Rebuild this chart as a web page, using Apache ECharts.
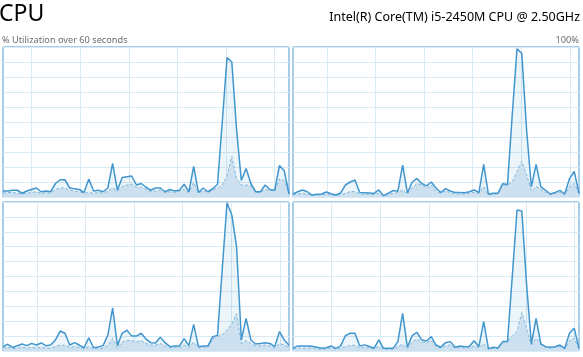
<!DOCTYPE html>
<html><head><meta charset="utf-8">
<script src="https://cdn.jsdelivr.net/npm/echarts@6/dist/echarts.min.js"></script>
<style>html,body{margin:0;padding:0;background:#fff}#c{width:583px;height:357px}</style>
</head><body><div id="c"></div>
<script>
// % utilization per logical processor, one sample per second (61 samples)
const cpu0Total  = [4,4,4.5,4.5,2.5,4,5,6,3.5,4,3.5,9,11.5,11.5,6,5.5,5,3,12,4,4.5,3.5,6,22.4,4.5,13,13.5,14,8,9,6.5,4.5,6,6,3.5,5,4,4.5,8.5,3.5,20.4,3,6,3.5,5.5,8.5,50,93,90,45,11,19,9,3.5,3.5,8,5,4.5,21,17.5,2];
const cpu0Kernel = [2.5,3,3,2.5,2,2.5,3,3.5,2.5,3,2.5,5,6,6,4.5,4,3.5,2.5,3,2.5,3,2.5,4,6,4,7,8,8.5,6.5,6.5,5,3.5,4,4.5,3,3.5,3,4,5,3,9.5,3,4,3,4.5,6,8,14,27,12,8,8,7.5,3,3,5,4.5,4,12,11,2];
const cpu1Total  = [2,3.5,4.7,3.5,1.3,1.8,2,3.3,2.2,1.3,2.7,8,10,11.3,3,2.8,2.6,2.4,4.7,0.9,2.5,4.3,3.8,21.3,2.7,10,12.4,9,7.4,10,6,3,5.6,4,3,3,2.9,3.5,4.7,3,21.8,1.8,2.5,2.5,8.9,8.4,55,98.9,95.6,45,6.7,21.8,6.7,4.4,2,3,4.4,2,12.2,17,2.4];
const cpu1Kernel = [1.5,2,2.5,2,1,1.2,1.5,2,1.5,1,1.5,2.5,3.6,3.6,2,1.8,1.8,1.5,2.5,0.8,1.5,2.5,3,4.7,2,6,9,8,6,8,4,2.5,4,3,2,2,2.2,2.5,3,2.5,6.7,1.5,2,2,8,8,10,17,23.8,15,4,7,5,3,1.5,2.5,3,1.5,7,9,2];
const cpu2Total  = [2.9,4.5,2.4,3.5,4.7,3.6,5.1,4,5.4,3.6,4,7.4,13.4,11.9,4,5.6,4,2.2,8.9,2.2,2.7,3.6,10.7,29,3.6,11.9,14,10,10,11.9,8,5.6,5.4,9.2,5.6,2.9,3.4,3.4,8.3,3.6,17.9,2.9,3.4,3.4,9.6,10.5,55,99.5,91.3,70,7.4,21.9,7.4,4.7,5.1,5.6,5.1,2.9,13,7.4,3.9];
const cpu2Kernel = [2,2.5,1.5,2,2.5,2,2.5,2,2.5,2,2,3,4,3.8,2.5,3,2.5,1.5,3,1.5,1.5,2,4,8.5,2,6,7,7,6,7,5,4,4,5,3.5,2,2.5,2.5,4,2.5,6,2,2.5,2.5,8,9.6,11,14,18,25,5,7,5,3.5,3.5,4,3.5,2,5,4,2.5];
const cpu3Total  = [1.8,3.4,3.4,3.4,3.2,2.5,1.8,2.2,3.4,1.8,3.4,10.3,11.9,11.9,3.4,4.1,3,1.8,7.4,1.8,1.8,1.8,6.3,25.3,2.5,10.3,12.5,7.4,6.7,9.6,4,2.5,5.6,6.3,2.5,3.4,2.9,3,6.9,2.9,19.7,1.6,2.5,2,6.3,6.3,50,94.6,94,45,4.7,21.9,4.7,2.9,2.5,2.9,4,1.8,11.9,15.2,1.8];
const cpu3Kernel = [1.5,2,2,2,2,1.5,1.2,1.5,2,1.2,2,3,3.8,3.8,2,2.5,2,1.5,3,1.2,1.2,1.2,3,4.5,1.5,6,8,6,5.5,7,3,2,3.5,4,2,2.5,2,2,3.5,2,5,1.2,1.8,1.5,5.5,7,10,13,25.7,15,4,8.5,5,2.5,2,2.5,3,1.5,7,8.5,1.5];

const titleText = 'CPU';
const cpuModel = 'Intel(R) Core(TM) i5-2450M CPU @ 2.50GHz';
const subLeft = '% Utilization over 60 seconds';
const subRight = '100%';

const totals = [cpu0Total, cpu1Total, cpu2Total, cpu3Total];
const kernels = [cpu0Kernel, cpu1Kernel, cpu2Kernel, cpu3Kernel];

// layout (style) — panel rectangles and scrolling grid phase
const panels = [
  {left: 3,   top: 47,  width: 286, height: 150, phase: 6.0},
  {left: 293, top: 47,  width: 286, height: 150, phase: 7.1},
  {left: 3,   top: 202, width: 286, height: 149, phase: 7.1},
  {left: 293, top: 202, width: 286, height: 149, phase: 8.1}
];
const gridStep = 10.2;

const LINE = '#4196ce';
const font = 'Noto Sans';

const grids = [], xAxes = [], yAxes = [], series = [];
panels.forEach((p, k) => {
  grids.push({left: p.left, top: p.top, width: p.width, height: p.height,
    show: true, borderColor: '#4f9bd0', borderWidth: 1, backgroundColor: '#fff', z: 0});
  const vlines = [];
  for (let v = p.phase; v < 60; v += gridStep) vlines.push(+v.toFixed(2));
  xAxes.push({type: 'value', gridIndex: k, min: 0, max: 60,
    axisLine: {show: false}, axisLabel: {show: false},
    axisTick: {show: false, customValues: vlines},
    splitLine: {show: true, lineStyle: {color: '#d9eaf4', width: 1}}});
  yAxes.push({type: 'value', gridIndex: k, min: 0, max: 100, interval: 10,
    axisLine: {show: false}, axisLabel: {show: false}, axisTick: {show: false},
    splitLine: {show: true, lineStyle: {color: '#d9eaf4', width: 1}}});
  series.push({type: 'line', xAxisIndex: k, yAxisIndex: k, symbol: 'none',
    data: kernels[k].map((v, i) => [i, v]),
    lineStyle: {color: '#8dbde0', width: 1, type: [3, 2]},
    areaStyle: {color: 'rgb(222,233,243)', opacity: 1}, z: 2, silent: true});
  series.push({type: 'line', xAxisIndex: k, yAxisIndex: k, symbol: 'none',
    data: totals[k].map((v, i) => [i, v]),
    lineStyle: {color: LINE, width: 1.5},
    areaStyle: {color: 'rgba(17,125,187,0.08)', opacity: 1}, z: 3, silent: true});
});

const chart = echarts.init(document.getElementById('c'), null, {renderer: 'canvas'});
chart.setOption({
  animation: false,
  backgroundColor: '#fff',
  title: [
    {text: titleText, left: -1, top: 0, padding: 0,
     textStyle: {fontFamily: font, fontSize: 23, fontWeight: 'normal', color: '#000', lineHeight: 28}},
    {text: cpuModel, right: 3, top: 9, padding: 0,
     textStyle: {fontFamily: font, fontSize: 12.5, fontWeight: 'normal', color: '#000', lineHeight: 16}},
    {text: subLeft, left: 2, top: 34, padding: 0,
     textStyle: {fontFamily: font, fontSize: 9.2, fontWeight: 'normal', color: '#6d6d6d', lineHeight: 12}},
    {text: subRight, right: 4, top: 34, padding: 0,
     textStyle: {fontFamily: font, fontSize: 9.2, fontWeight: 'normal', color: '#6d6d6d', lineHeight: 12}}
  ],
  grid: grids, xAxis: xAxes, yAxis: yAxes, series: series
});
</script></body></html>
